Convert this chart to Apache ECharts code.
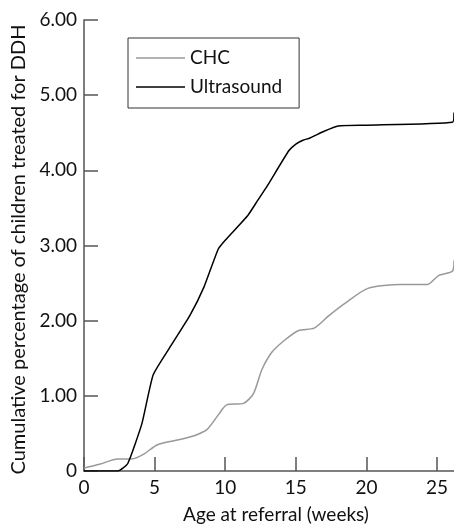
<!DOCTYPE html>
<html>
<head>
<meta charset="utf-8">
<script src="https://cdn.jsdelivr.net/npm/echarts@6/dist/echarts.min.js"></script>
<style>
  html, body { margin: 0; padding: 0; background: #fff; }
  #chart { width: 454px; height: 529px; }
</style>
</head>
<body>
<div id="chart"></div>
<script>
// weeks / cumulative %
const chcWeeks = [0, 1.1, 2.4, 3.4, 4.2, 5.2, 6.8, 7.8, 8.7, 9.6, 10.1, 11.3, 12.0, 12.6, 13.3, 14.2, 15.2, 16.3, 17.3, 18.4, 20.1, 22.4, 24.3, 25.1, 26.1, 26.2]
const chcValues = [0.04, 0.09, 0.16, 0.16, 0.22, 0.35, 0.42, 0.47, 0.55, 0.77, 0.88, 0.9, 1.03, 1.35, 1.58, 1.74, 1.87, 1.9, 2.06, 2.22, 2.43, 2.48, 2.48, 2.6, 2.66, 2.8]

const usWeeks = [0, 2.4, 3.1, 4.1, 4.9, 6.2, 7.5, 8.5, 9.5, 10.0, 11.6, 12.3, 13.0, 14.5, 15.0, 15.5, 16.0, 17.0, 18.0, 20.0, 26.1, 26.2]
const usValues = [0, 0, 0.1, 0.63, 1.28, 1.68, 2.07, 2.45, 2.95, 3.07, 3.4, 3.6, 3.8, 4.26, 4.35, 4.4, 4.43, 4.52, 4.59, 4.6, 4.64, 4.77]

const xTicks = [0, 5, 10, 15, 20, 25]
const seriesNames = ['CHC', 'Ultrasound']

const font = 'Lato'
const axisColor = '#555'

const chart = echarts.init(document.getElementById('chart'))

chart.setOption({
  animation: false,
  textStyle: { fontFamily: font },
  grid: { left: 84, right: 0, top: 20, bottom: 54 },
  legend: {
    data: seriesNames,
    orient: 'vertical',
    left: 128,
    top: 38,
    icon: 'rect',
    itemWidth: 49,
    itemHeight: 1.5,
    itemGap: 9,
    padding: [10, 17, 11, 8],
    borderColor: '#333',
    borderWidth: 1,
    textStyle: { fontSize: 19, color: '#111', lineHeight: 20, fontFamily: font },
  },
  xAxis: {
    type: 'value',
    min: 0,
    max: 26.2,
    interval: 5,
    name: 'Age at referral (weeks)',
    nameLocation: 'middle',
    nameGap: 34,
    nameTextStyle: { fontSize: 19, color: '#111', padding: [0, 0, 0, 14] },
    splitLine: { show: false },
    axisLine: { lineStyle: { color: axisColor, width: 1.5 } },
    axisTick: {
      inside: true,
      length: 14,
      customValues: xTicks,
      lineStyle: { color: axisColor, width: 1.5 },
    },
    axisLabel: {
      customValues: xTicks,
      fontSize: 19,
      color: '#111',
      margin: 7,
    },
  },
  yAxis: {
    type: 'value',
    min: 0,
    max: 6,
    interval: 1,
    name: 'Cumulative percentage of children treated for DDH',
    nameLocation: 'middle',
    nameGap: 52,
    nameTextStyle: { fontSize: 20, color: '#111', padding: [0, 8, 0, 0] },
    splitLine: { show: false },
    axisLine: { show: true, lineStyle: { color: axisColor, width: 1.5 } },
    axisTick: {
      show: true,
      inside: true,
      length: 14,
      lineStyle: { color: axisColor, width: 1.5 },
    },
    axisLabel: {
      fontSize: 19,
      color: '#111',
      margin: 7,
      formatter: (v) => (v === 0 ? '0' : v.toFixed(2)),
    },
  },
  series: [
    {
      name: 'CHC',
      type: 'line',
      data: chcWeeks.map((w, i) => [w, chcValues[i]]),
      showSymbol: false,
      smooth: 0.25,
      color: '#999',
      lineStyle: { color: '#999', width: 1.5 },
    },
    {
      name: 'Ultrasound',
      type: 'line',
      data: usWeeks.map((w, i) => [w, usValues[i]]),
      showSymbol: false,
      smooth: 0.15,
      color: '#000',
      lineStyle: { color: '#000', width: 1.5 },
    },
  ],
})
</script>
</body>
</html>
